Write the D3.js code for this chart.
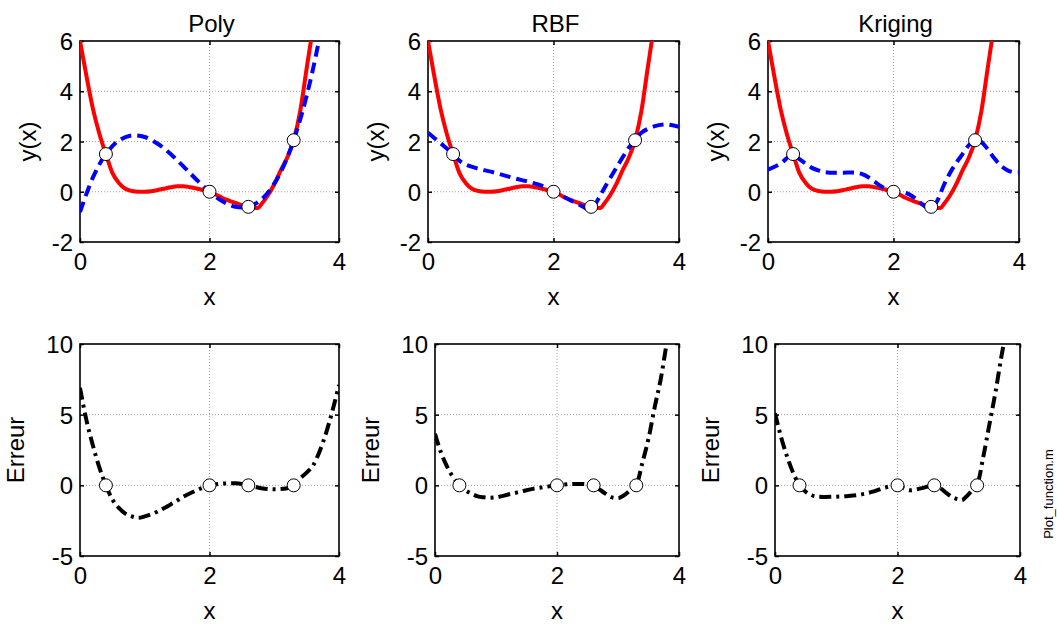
<!DOCTYPE html>
<html>
<head>
<meta charset="utf-8">
<script src="https://cdn.jsdelivr.net/npm/d3@7"></script>
<style>
  html, body { margin: 0; padding: 0; background: #fff; }
  svg { display: block; }
  text { font-family: "Liberation Sans", Arial, sans-serif; fill: #000; }
</style>
</head>
<body>
<svg id="chart" width="1057" height="624"></svg>
<script>
// ---------------- data ----------------
const methods = ["Poly", "RBF", "Kriging"];
const xTicks = [0, 2, 4];
const yTicksTop = [-2, 0, 2, 4, 6];
const yTicksBottom = [-5, 0, 5, 10];

// sample points (observations)
const sampleX = [0.4, 2.0, 2.6, 3.3];
const sampleY = [1.5, 0.0, -0.6, 2.05];
const sampleErr = [0, 0, 0, 0];

// true function (red)
const trueX = [0,0.1,0.2,0.3,0.4,0.5,0.6,0.7,0.8,0.9,1.0,1.1,1.2,1.3,1.4,1.5,1.6,1.7,1.8,1.9,2.0,2.1,2.2,2.3,2.4,2.5,2.6,2.7,2.75,2.8,2.9,3.0,3.1,3.2,3.3,3.4,3.5,3.6,3.7,3.8,3.9,4.0];
const trueY = [6.0,4.6,3.3,2.3,1.5,0.75,0.35,0.12,0.03,0.0,0.0,0.02,0.07,0.12,0.18,0.22,0.22,0.18,0.13,0.07,0.0,-0.12,-0.25,-0.35,-0.44,-0.53,-0.6,-0.65,-0.65,-0.5,-0.15,0.3,0.85,1.35,2.05,3.2,4.9,6.6,8.6,11.5,14.4,17.8];

// surrogate predictions (blue dashed)
const polyX = [0,0.2,0.4,0.6,0.8,1.0,1.2,1.4,1.6,1.8,2.0,2.2,2.4,2.6,2.8,3.0,3.2,3.4,3.6,3.8];
const polyY = [-0.81,0.57,1.5,2.04,2.24,2.18,1.91,1.5,1.0,0.48,0.0,-0.38,-0.6,-0.6,-0.31,0.32,1.36,2.87,4.9,7.5];

const rbfX = [0,0.2,0.4,0.5,0.6,0.8,1.0,1.2,1.4,1.6,1.8,2.0,2.2,2.4,2.6,2.7,2.8,3.0,3.2,3.3,3.4,3.6,3.8,4.0];
const rbfY = [2.35,1.93,1.5,1.24,1.08,0.92,0.8,0.66,0.52,0.4,0.25,0.0,-0.25,-0.5,-0.72,-0.35,0.1,0.95,1.75,2.05,2.35,2.6,2.68,2.58];

const krigX = [0,0.2,0.4,0.5,0.6,0.7,0.8,0.9,1.0,1.2,1.4,1.5,1.6,1.7,1.8,1.9,2.0,2.1,2.2,2.3,2.4,2.5,2.6,2.7,2.8,2.9,3.0,3.1,3.2,3.3,3.4,3.5,3.6,3.7,3.8,3.9,4.0];
const krigY = [0.88,1.12,1.5,1.3,1.12,0.95,0.85,0.78,0.76,0.76,0.76,0.7,0.58,0.4,0.22,0.07,0.0,-0.02,-0.05,-0.18,-0.38,-0.58,-0.7,-0.35,0.25,0.75,1.15,1.5,1.85,2.07,1.98,1.7,1.35,1.07,0.88,0.78,0.77];

// errors (black dash-dot)
const polyErrX = [0,0.1,0.2,0.3,0.4,0.5,0.6,0.7,0.8,0.9,1.0,1.2,1.4,1.6,1.8,2.0,2.2,2.4,2.6,2.8,3.0,3.2,3.3,3.4,3.5,3.6,3.7,3.8,3.9,4.0];
const polyErrY = [6.9,4.6,2.8,1.25,0,-1.0,-1.6,-2.0,-2.2,-2.3,-2.2,-1.85,-1.35,-0.8,-0.35,0,0.12,0.15,0,-0.2,-0.28,-0.2,0,0.5,0.9,1.4,2.4,3.7,5.3,7.1];

const rbfErrX = [0,0.1,0.2,0.3,0.4,0.5,0.6,0.7,0.8,0.9,1.0,1.2,1.4,1.6,1.8,2.0,2.2,2.4,2.6,2.7,2.8,2.9,3.0,3.1,3.2,3.3,3.4,3.5,3.6,3.7,3.8,3.9];
const rbfErrY = [3.65,2.3,1.3,0.55,0,-0.35,-0.6,-0.78,-0.85,-0.88,-0.85,-0.65,-0.45,-0.25,-0.12,0,0.08,0.1,0,-0.3,-0.6,-0.85,-0.9,-0.7,-0.35,0,1.6,3.3,5.5,7.5,10.1,12.5];

const krigErrX = [0,0.1,0.2,0.3,0.4,0.5,0.6,0.7,0.8,1.0,1.2,1.4,1.6,1.8,2.0,2.1,2.2,2.4,2.6,2.7,2.8,2.9,3.0,3.05,3.1,3.2,3.3,3.4,3.5,3.6,3.7,3.8];
const krigErrY = [5.1,3.4,2.0,0.85,0,-0.45,-0.7,-0.8,-0.82,-0.8,-0.75,-0.65,-0.45,-0.15,0,-0.2,-0.35,-0.2,0,-0.2,-0.55,-0.85,-1.0,-1.05,-0.9,-0.45,0,2.0,4.3,6.6,9.2,11.5];

const predX = [polyX, rbfX, krigX];
const predY = [polyY, rbfY, krigY];
const errX = [polyErrX, rbfErrX, krigErrX];
const errY = [polyErrY, rbfErrY, krigErrY];

// ---------------- layout ----------------
const topBoxes = [
  {x0: 80, x1: 339, y0: 41, y1: 242},
  {x0: 428, x1: 679, y0: 41, y1: 242},
  {x0: 768, x1: 1019, y0: 41, y1: 242}
];
const botBoxes = [
  {x0: 80, x1: 339, y0: 344, y1: 556},
  {x0: 435, x1: 679, y0: 344, y1: 556},
  {x0: 775, x1: 1020, y0: 344, y1: 556}
];

const svg = d3.select("#chart");
const FS = 24;
const FF = "Liberation Sans, Arial, sans-serif";
const fmt = d => String(d); // plain hyphen-minus like the original

function drawPanel(box, idx, yDomain, yTicks, ylabel, title, drawFn, key) {
  const xs = d3.scaleLinear().domain([0, 4]).range([box.x0, box.x1]);
  const ys = d3.scaleLinear().domain(yDomain).range([box.y1, box.y0]);
  const g = svg.append("g");
  const clipId = "clip-" + key + idx;
  svg.append("clipPath").attr("id", clipId)
    .append("rect").attr("x", box.x0).attr("y", box.y0)
    .attr("width", box.x1 - box.x0).attr("height", box.y1 - box.y0);

  // grid
  const grid = g.append("g").attr("stroke", "#8a8a8a").attr("stroke-width", 0.8)
    .attr("stroke-dasharray", "1,2");
  xTicks.forEach(t => {
    if (t > 0 && t < 4) grid.append("line").attr("x1", xs(t)).attr("x2", xs(t))
      .attr("y1", box.y0).attr("y2", box.y1);
  });
  yTicks.forEach(t => {
    if (t > yDomain[0] && t < yDomain[1]) grid.append("line").attr("y1", ys(t)).attr("y2", ys(t))
      .attr("x1", box.x0).attr("x2", box.x1);
  });

  // axes with inward ticks on all sides
  const tl = 4;
  const axB = g.append("g").attr("transform", `translate(0,${box.y1})`)
    .call(d3.axisBottom(xs).tickValues(xTicks).tickSize(-tl).tickPadding(11).tickFormat(fmt));
  const axT = g.append("g").attr("transform", `translate(0,${box.y0})`)
    .call(d3.axisTop(xs).tickValues(xTicks).tickSize(-tl).tickFormat(""));
  const axL = g.append("g").attr("transform", `translate(${box.x0},0)`)
    .call(d3.axisLeft(ys).tickValues(yTicks).tickSize(-tl).tickPadding(7).tickFormat(fmt));
  const axR = g.append("g").attr("transform", `translate(${box.x1},0)`)
    .call(d3.axisRight(ys).tickValues(yTicks).tickSize(-tl).tickFormat(""));
  [axB, axT, axL, axR].forEach(a => {
    a.attr("font-size", FS).attr("font-family", FF);
    a.select(".domain").remove();
    a.selectAll(".tick line").attr("stroke", "#000").attr("stroke-width", 1.5);
    a.selectAll("text").attr("fill", "#000");
  });
  axB.selectAll("text").attr("dy", "0.71em");
  axL.selectAll("text").attr("dy", "0.36em");

  // curves
  const cg = svg.append("g").attr("clip-path", `url(#${clipId})`);
  drawFn(cg, xs, ys);

  // box
  g.append("rect").attr("x", box.x0).attr("y", box.y0)
    .attr("width", box.x1 - box.x0).attr("height", box.y1 - box.y0)
    .attr("fill", "none").attr("stroke", "#000").attr("stroke-width", 1.6);

  // labels
  const cx = (box.x0 + box.x1) / 2, cy = (box.y0 + box.y1) / 2;
  svg.append("text").attr("x", cx).attr("y", box.y1 + 63)
    .attr("text-anchor", "middle").attr("font-size", FS).text("x");
  svg.append("text").attr("transform", `translate(${box.x0 - ylabel.off},${cy}) rotate(-90)`)
    .attr("text-anchor", "middle").attr("dy", "0.35em").attr("font-size", FS).text(ylabel.text);
  if (title) {
    svg.append("text").attr("x", cx + 2).attr("y", 32)
      .attr("text-anchor", "middle").attr("font-size", FS).text(title);
  }
  return {xs, ys};
}

const lineGen = (xs, ys, X, Y, curve) => d3.line()
  .x((d, i) => xs(X[i])).y((d, i) => ys(Y[i])).curve(curve)(X);

function markers(cg, xs, ys, X, Y) {
  cg.selectAll(null).data(X).enter().append("circle")
    .attr("cx", (d, i) => xs(X[i])).attr("cy", (d, i) => ys(Y[i])).attr("r", 6.5)
    .attr("fill", "#fff").attr("stroke", "#000").attr("stroke-width", 1);
}

methods.forEach((m, i) => {
  drawPanel(topBoxes[i], i, [-2, 6], yTicksTop, {text: "y(x)", off: 52}, m, (cg, xs, ys) => {
    cg.append("path").attr("d", lineGen(xs, ys, trueX, trueY, d3.curveMonotoneX))
      .attr("fill", "none").attr("stroke", "#ff0000").attr("stroke-width", 4);
    cg.append("path").attr("d", lineGen(xs, ys, predX[i], predY[i], d3.curveCatmullRom))
      .attr("fill", "none").attr("stroke", "#0000ff").attr("stroke-width", 4)
      .attr("stroke-dasharray", "11,6");
    markers(cg, xs, ys, sampleX, sampleY);
  }, "t");
  drawPanel(botBoxes[i], i, [-5, 10], yTicksBottom, {text: "Erreur", off: 64}, null, (cg, xs, ys) => {
    cg.append("path").attr("d", lineGen(xs, ys, errX[i], errY[i], d3.curveMonotoneX))
      .attr("fill", "none").attr("stroke", "#000").attr("stroke-width", 4)
      .attr("stroke-dasharray", "12,5,3,5");
    markers(cg, xs, ys, sampleX, sampleErr);
  }, "b");
});

svg.append("text").attr("transform", "translate(1048,494) rotate(-90)")
  .attr("text-anchor", "middle").attr("dy", "0.35em")
  .attr("font-family", "DejaVu Sans Condensed, DejaVu Sans, sans-serif")
  .attr("font-size", 13).text("Plot_function.m");
</script>
</body>
</html>
